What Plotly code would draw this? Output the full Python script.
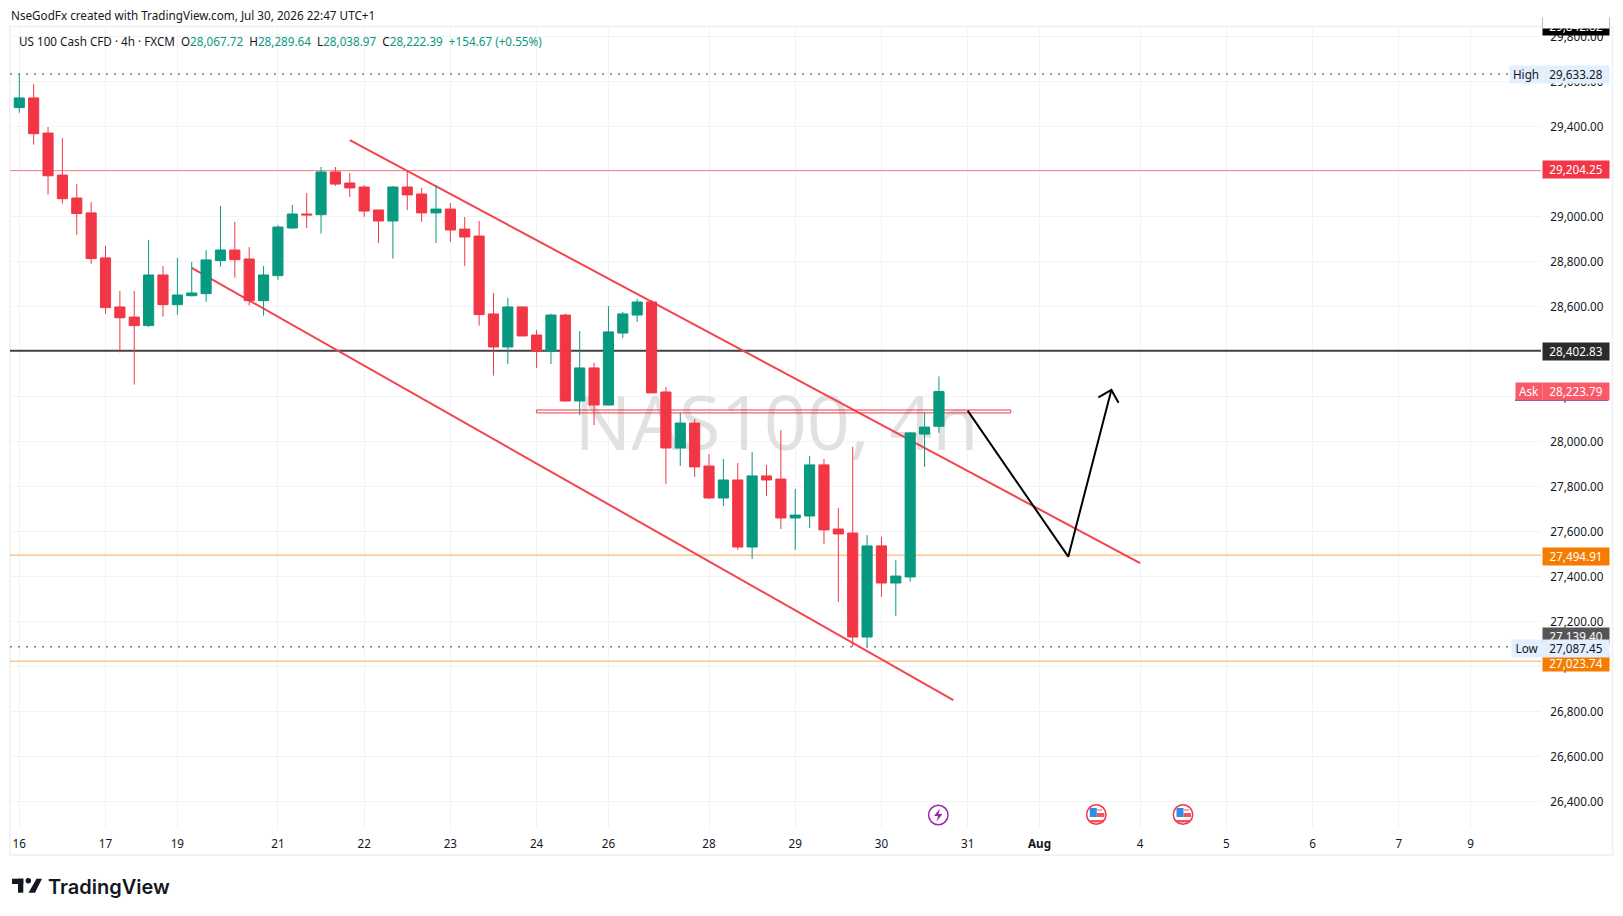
import plotly.graph_objects as go

W, H = 1623, 916
FONT = "Noto Sans"
TEXT = "#131722"
GREEN = "#089981"
RED = "#f23645"
GRID = "#f2f3f5"

# 4h candles
candle_index = list(range(65))
opens = [29484, 29527, 29371, 29184, 29082, 29016, 28816, 28598, 28553, 28515, 28740, 28608, 28648,
         28657, 28804, 28851, 28811, 28626, 28737, 28949, 29011, 29008, 29198, 29149, 29131, 29029,
         28980, 29131, 29100, 29016, 29033, 28944, 28913, 28567, 28420, 28598, 28473, 28402, 28562,
         28180, 28327, 28162, 28482, 28562, 28620, 28220, 27971, 28082, 27891, 27749, 27829, 27531,
         27847, 27833, 27660, 27669, 27896, 27611, 27593, 27131, 27536, 27371, 27398, 28033, 28067.72]
highs = [29633.28, 29589, 29398, 29349, 29144, 29064, 28869, 28669, 28669, 28896, 28780, 28816, 28798,
         28851, 29047, 28976, 28864, 28780, 28962, 29051, 29104, 29220, 29220, 29193, 29140, 29029,
         29136, 29202, 29127, 29140, 29060, 28998, 28980, 28660, 28638, 28598, 28496, 28568, 28568,
         28491, 28349, 28602, 28576, 28633, 28629, 28242, 28127, 28100, 27944, 27922, 27904, 27953,
         27896, 28051, 27789, 27936, 27922, 27704, 27976, 27584, 27576, 27473, 28042, 28131, 28289.64]
lows = [29461, 29319, 29097, 29057, 28919, 28790, 28568, 28396, 28253, 28509, 28555, 28564, 28644,
        28621, 28777, 28728, 28604, 28559, 28719, 28944, 28949, 28924, 29136, 29087, 28998, 28882,
        28813, 29029, 28976, 28882, 28887, 28780, 28515, 28293, 28344, 28469, 28327, 28344, 28176,
        28118, 28073, 28162, 28460, 28531, 28216, 27811, 27891, 27842, 27744, 27713, 27518, 27478,
        27758, 27611, 27518, 27616, 27544, 27287, 27087.45, 27087.45, 27309, 27224, 27376, 27887, 28038.97]
closes = [29527, 29368, 29181, 29079, 29013, 28813, 28595, 28550, 28515, 28740, 28608, 28651, 28660,
          28807, 28851, 28808, 28626, 28740, 28953, 29011, 29007, 29198, 29144, 29127, 29024, 28980,
          29131, 29096, 29016, 29033, 28940, 28909, 28564, 28420, 28598, 28469, 28402, 28562, 28180,
          28327, 28162, 28487, 28567, 28620, 28216, 27971, 28082, 27887, 27749, 27829, 27531, 27847,
          27829, 27660, 27673, 27896, 27607, 27589, 27131, 27536, 27371, 27402, 28038, 28064, 28222.39]

# axes
time_ticks = [0, 6, 11, 18, 24, 30, 36, 41, 48, 54, 60, 66, 71, 78, 84, 90, 96, 101]
time_labels = ["16", "17", "19", "21", "22", "23", "24", "26", "28", "29", "30", "31", "<b>Aug</b>",
               "4", "5", "6", "7", "9"]
price_ticks = [26400, 26600, 26800, 27000, 27200, 27400, 27600, 27800, 28000, 28200, 28400, 28600,
               28800, 29000, 29200, 29400, 29600, 29800]
x_range = [-0.647, 105.9]
y_range = [26282.2, 29842.2]

# horizontal levels
high_price = 29633.28
low_price = 27087.45
resistance = 29204.25
pivot = 28402.83
support_top = 27494.91
support_low = 27023.74

# drawings, in bar index / price
upper_channel_x = [23, 78]
upper_channel_y = [29339, 27459]
lower_channel_x = [12, 65]
lower_channel_y = [28772, 26851]
zone_x = [36, 69, 69, 36, 36]
zone_y = [28140, 28140, 28127, 28127, 28140]
path_x = [66, 73, 76]
path_y = [28137, 27488, 28229]
head_x = [75.1, 76, 76.5]
head_y = [28196, 28229, 28172]


def px(x):
    return x / W


def py(y):
    return 1 - y / H


def level(fig, price, color, width):
    fig.add_trace(go.Scatter(x=x_range, y=[price, price], mode="lines",
                             line=dict(color=color, width=width), hoverinfo="skip"))


def drawing(fig, xs, ys, color, width):
    fig.add_trace(go.Scatter(x=xs, y=ys, mode="lines", line=dict(color=color, width=width),
                             hoverinfo="skip"))


fig = go.Figure()

# watermark sits under everything
fig.add_trace(go.Scatter(x=[52.7], y=[28045], mode="text", text=["NAS100, 4h"],
                         textfont=dict(family="Open Sans", size=75.5, color="#e1e1e1"),
                         textposition="middle center", hoverinfo="skip"))

level(fig, resistance, "#ff868f", 1)
level(fig, support_top, "#ffab52", 1)
level(fig, support_low, "#ffab52", 1)
level(fig, pivot, "#434343", 2)
fig.add_trace(go.Scatter(x=x_range, y=[high_price, high_price], mode="lines", hoverinfo="skip",
                         line=dict(color="#787b86", width=1.5, dash="2px,6px")))
fig.add_trace(go.Scatter(x=x_range, y=[low_price, low_price], mode="lines", hoverinfo="skip",
                         line=dict(color="#787b86", width=1.5, dash="2px,6px")))

drawing(fig, upper_channel_x, upper_channel_y, "#f5424f", 2)
drawing(fig, lower_channel_x, lower_channel_y, "#f5424f", 2)
drawing(fig, zone_x, zone_y, "#f23645", 1)
drawing(fig, path_x, path_y, "#000000", 2)
drawing(fig, head_x, head_y, "#000000", 2)

# candles live on an overlaying pair of axes so they stay above the drawings
fig.add_trace(go.Candlestick(
    x=candle_index, open=opens, high=highs, low=lows, close=closes,
    xaxis="x2", yaxis="y2",
    increasing=dict(line=dict(color=GREEN, width=1), fillcolor=GREEN),
    decreasing=dict(line=dict(color=RED, width=1), fillcolor=RED),
))

annotations = []


def label(text, x, y, size=11.7, color=TEXT, anchor="left", **kw):
    annotations.append(dict(text=text, x=px(x), y=py(y), xref="paper", yref="paper", xanchor=anchor,
                            yanchor="middle", showarrow=False, font=dict(family=FONT, size=size, color=color),
                            **kw))


def tag(text, y, bg, color="#ffffff", x0=1542, w=66, h=17):
    annotations.append(dict(text=text, x=px(x0), y=py(y), xref="paper", yref="paper", xanchor="left",
                            yanchor="middle", showarrow=False, width=w, height=h, bgcolor=bg, borderpad=0,
                            align="center", valign="top", font=dict(family=FONT, size=11.7, color=color)))


def cover(x0, y0, x1, y1, color):
    annotations.append(dict(text=" ", x=px(x0), y=py(y0), xref="paper", yref="paper", xanchor="left",
                            yanchor="top", showarrow=False, width=x1 - x0, height=y1 - y0, bgcolor=color,
                            borderpad=0))


label("NseGodFx created with TradingView.com, Jul 30, 2026 22:47 UTC+1", 9, 15)


def g(s):
    return f'<span style="color:{GREEN}">{s}</span>'


label("US 100 Cash CFD · 4h · FXCM  O" + g("28,067.72") + "  H" + g("28,289.64") + "  L" + g("28,038.97")
      + "  C" + g("28,222.39") + "  " + g("+154.67 (+0.55%)"), 17, 41.5)

tag("29,842.82", 27, "#000000")
cover(1542, 12, 1608, 26.5, "#ffffff")
tag("High", 74, "#e3effd", color=TEXT, x0=1509, w=32)
tag("29,633.28", 74, "#e3effd", color=TEXT)
tag(f"{resistance:,.2f}", 170, RED)
tag(f"{pivot:,.2f}", 351, "#2b2b2b")
tag("Ask", 391.5, "#fa5a68", x0=1515, w=26)
tag("28,223.79", 391.5, "#fa5a68")
tag(f"{support_top:,.2f}", 556, "#f57c00")
tag("27,139.40", 635, "#555555", h=15)
tag(f"{support_low:,.2f}", 663, "#f57c00", h=16)
tag("Low", 648.5, "#e3effd", color=TEXT, x0=1511, w=30)
tag(f"{low_price:,.2f}", 648.5, "#e3effd", color=TEXT)

annotations.append(dict(text="TradingView", x=px(46), y=py(887), xref="paper", yref="paper", xanchor="left",
                        yanchor="middle", showarrow=False,
                        font=dict(family="Inter", size=20, color="#131722", weight=600)))


def box(x0, y0, x1, y1, color, layer="above"):
    return dict(type="rect", xref="paper", yref="paper", x0=px(x0), x1=px(x1), y0=py(y0), y1=py(y1),
                fillcolor=color, line=dict(width=0), layer=layer)


def poly(points, color):
    d = "M " + " L ".join(f"{px(x):.5f},{py(y):.5f}" for x, y in points) + " Z"
    return dict(type="path", xref="paper", yref="paper", path=d, fillcolor=color, line=dict(width=0))


def disc(cx, cy, r, color, fill="#ffffff", width=1.5):
    return dict(type="circle", xref="paper", yref="paper", x0=px(cx - r), x1=px(cx + r), y0=py(cy - r),
                y1=py(cy + r), fillcolor=fill, line=dict(color=color, width=width))


shapes = [
    # chart frame
    dict(type="rect", xref="paper", yref="paper", x0=px(10), x1=px(1612.5), y0=py(26.5), y1=py(855),
         line=dict(color=GRID, width=2), layer="below"),
    # logo mark
    box(12, 878.7, 23.3, 884, "#131722"),
    box(18, 878.7, 23.3, 892.7, "#131722"),
    disc(28.3, 880.7, 2.7, "#131722", fill="#131722", width=0),
    poly([(36.5, 878.7), (42, 878.7), (35, 892.7), (28.5, 892.7)], "#131722"),
    # ask underline
    box(1515, 399.5, 1608, 401, "#2962ff"),
    # news marker
    disc(938.3, 815, 9.7, "#9c27b0"),
    poly([(940, 808.5), (934, 816), (938, 816), (936.5, 821.5), (942.5, 814), (938.5, 814)], "#9c27b0"),
]
for cx in [1096.3, 1183]:
    shapes += [
        disc(cx, 814.5, 9.7, "#f23645"),
        box(cx - 6.5, 808, cx + 0.5, 817, "#2f8fe8"),
        box(cx + 0.5, 809, cx + 6, 811, "#f7a7ad"),
        box(cx + 0.5, 813, cx + 8, 817, "#f0545e"),
        box(cx - 7, 820, cx + 7, 822.5, "#f0545e"),
    ]

axis_font = dict(family=FONT, size=11.7, color=TEXT)
fig.update_layout(
    width=W, height=H,
    margin=dict(l=0, r=0, t=0, b=0),
    paper_bgcolor="#ffffff", plot_bgcolor="#ffffff",
    showlegend=False,
    boxgap=0.15, boxgroupgap=0.17,
    xaxis=dict(domain=[px(10), px(1541)], range=x_range, tickmode="array", tickvals=time_ticks,
               ticktext=time_labels, tickangle=0, showgrid=True, gridcolor=GRID, gridwidth=1, zeroline=False,
               showline=False, ticks="outside", ticklen=5, tickcolor="#ffffff", tickfont=axis_font,
               rangeslider=dict(visible=False)),
    yaxis=dict(domain=[py(828), py(27)], range=y_range, side="right", tickmode="array", tickvals=price_ticks,
               tickformat=",.2f", showgrid=True, gridcolor=GRID, gridwidth=1, zeroline=False, showline=False,
               ticks="outside", ticklen=6, tickcolor="#ffffff", tickfont=axis_font),
    xaxis2=dict(overlaying="x", anchor="y2", range=x_range, visible=False, rangeslider=dict(visible=False)),
    yaxis2=dict(overlaying="y", anchor="x2", range=y_range, visible=False),
    annotations=annotations,
    shapes=shapes,
)

fig.write_html("out.html", post_script="document.body.style.margin='0';",
               config={"displayModeBar": False})
